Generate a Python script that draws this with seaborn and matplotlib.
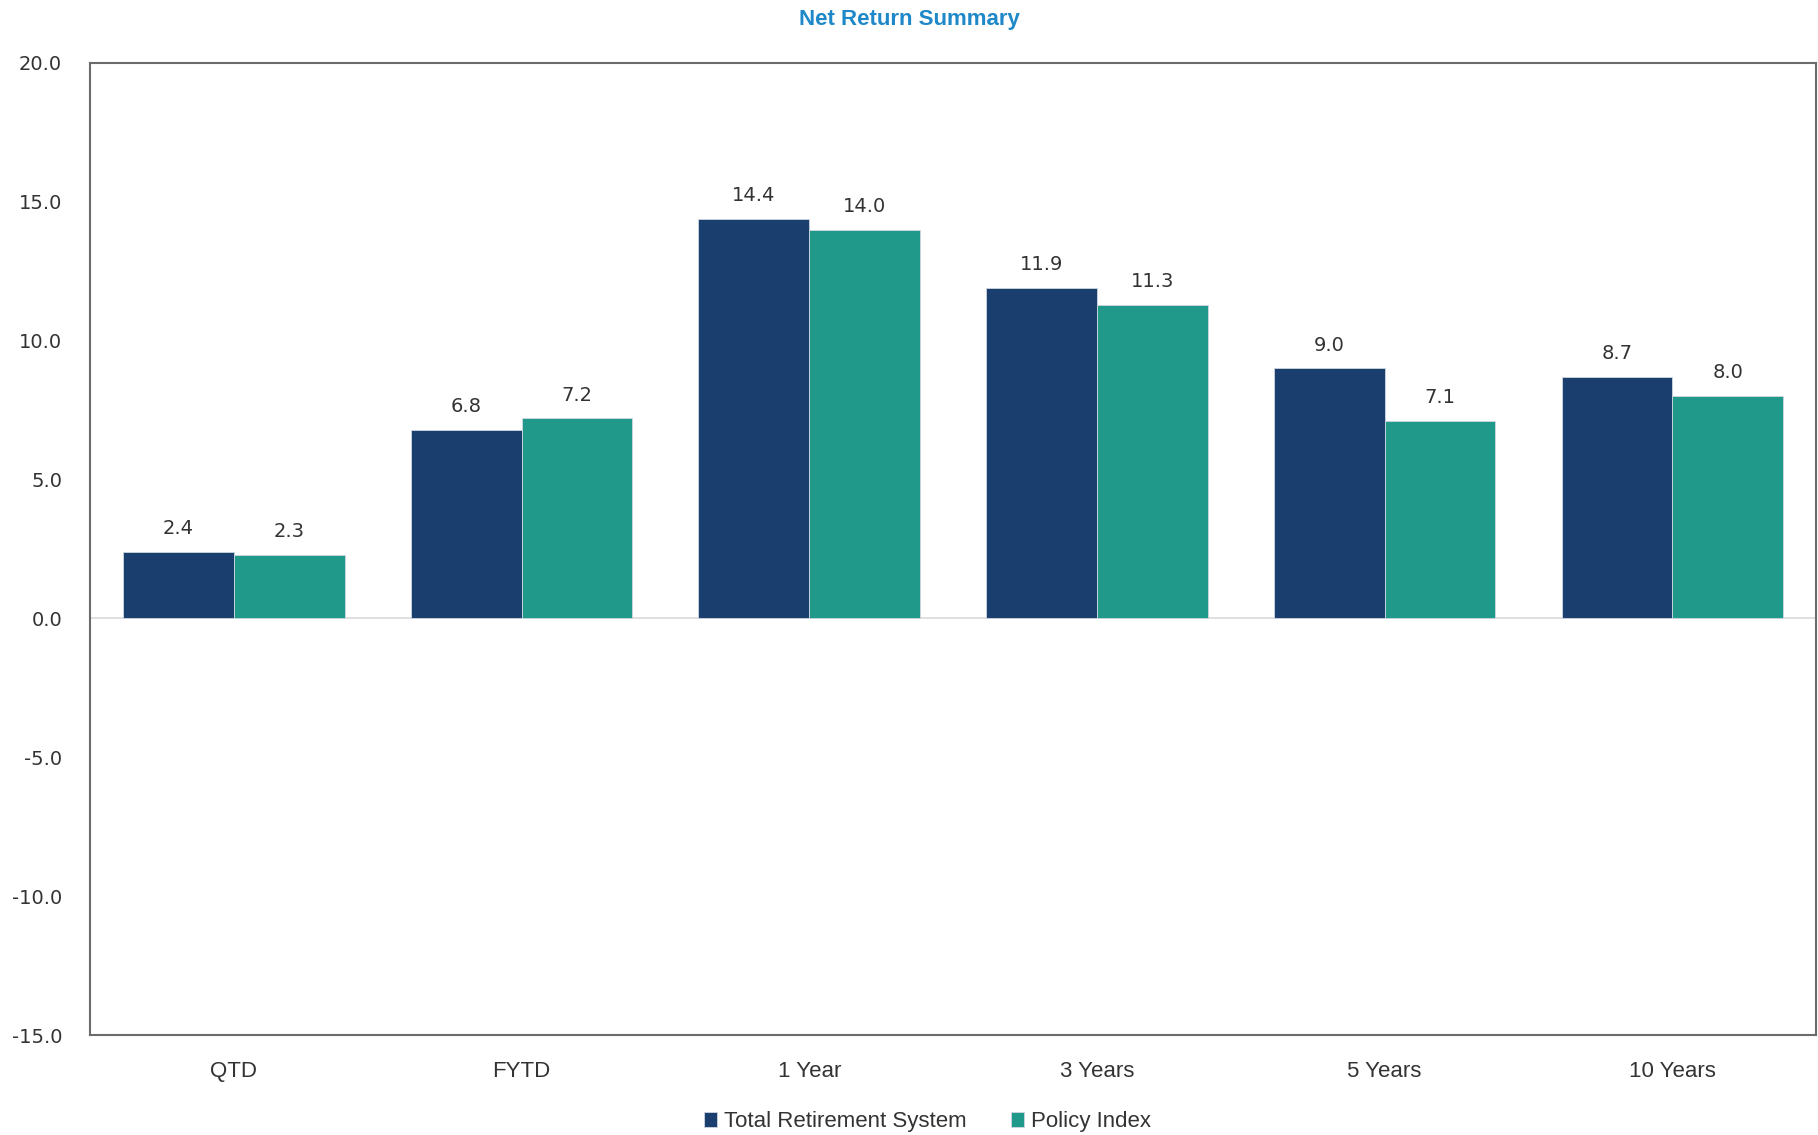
import pandas as pd
import matplotlib.pyplot as plt
import seaborn as sns

# Chart data
periods = ['QTD', 'FYTD', '1 Year', '3 Years', '5 Years', '10 Years']
total_system = [2.4, 6.8, 14.4, 11.9, 9.0, 8.7]
policy_index = [2.3, 7.2, 14.0, 11.3, 7.1, 8.0]
series_names = ['Total Retirement System', 'Policy Index']
y_ticks = [-15, -10, -5, 0, 5, 10, 15, 20]

# Build long-format DataFrame for seaborn
df = pd.DataFrame({
    'period': periods * 2,
    'value': total_system + policy_index,
    'series': [series_names[0]] * len(periods) + [series_names[1]] * len(periods),
})

sns.set_style('white')
plt.rcParams['font.family'] = ['DejaVu Sans']

fig = plt.figure(figsize=(18.18, 11.35), dpi=100)
ax = fig.add_axes([0.0495, 0.0881, 0.9495, 0.8564])

palette = {series_names[0]: '#1A3F6F', series_names[1]: '#20998A'}
sns.barplot(data=df, x='period', y='value', hue='series', order=periods,
            hue_order=series_names, palette=palette, width=0.77,
            saturation=1, edgecolor='#d0d8e0', linewidth=0.6, ax=ax, legend=True)

# Value labels above bars
for container in ax.containers:
    ax.bar_label(container, fmt='%.1f', padding=10, fontsize=14, color='#333333')

ax.set_ylim(-15, 20)
ax.set_yticks(y_ticks)
ax.set_yticklabels([f'{t:.1f}' for t in y_ticks], fontsize=14, color='#333333')
ax.tick_params(axis='y', length=0, pad=20)
ax.tick_params(axis='x', length=0, pad=19)
narrow = ['Liberation Sans', 'DejaVu Sans']
for lbl in ax.get_xticklabels():
    lbl.set_fontfamily(narrow)
    lbl.set_fontsize(16)
    lbl.set_color('#333333')
ax.set_xlabel('')
ax.set_ylabel('')

ax.axhline(0, color='#d9d9d9', linewidth=1.2, zorder=0)
for spine in ax.spines.values():
    spine.set_color('#6b6b6b')
    spine.set_linewidth(1.5)

fig.text(0.5, 0.992, 'Net Return Summary', ha='center', va='top',
         fontsize=16, fontweight='bold', color='#1E88C8',
         family=['Liberation Sans', 'DejaVu Sans'])

leg = ax.legend(loc='upper center', bbox_to_anchor=(0.485, -0.058), ncol=2,
                frameon=False, handlelength=0.6, handleheight=0.6,
                handletextpad=0.3, columnspacing=2.0,
                prop={'family': narrow, 'size': 16})
for t in leg.get_texts():
    t.set_color('#333333')

fig.savefig('out.png', dpi=100)
